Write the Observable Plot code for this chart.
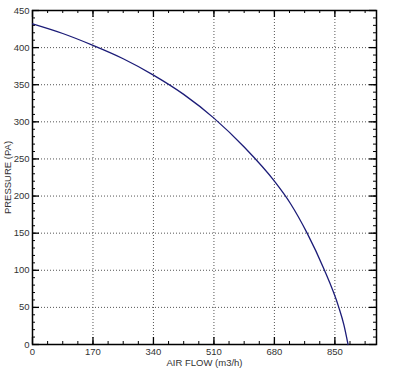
<!DOCTYPE html>
<html>
<head>
<meta charset="utf-8">
<script src="https://cdn.jsdelivr.net/npm/d3@7"></script>
<script src="https://cdn.jsdelivr.net/npm/@observablehq/plot@0.6"></script>
<style>
  html, body { margin: 0; padding: 0; background: #fff; }
  #chart svg { display: block; }
</style>
</head>
<body>
<div id="chart"></div>
<script>
// Fan curve
const airFlow  = [0, 85, 170, 255, 340, 425, 510, 595, 680, 725, 772, 818, 861, 875, 887];
const pressure = [432, 419, 403, 385, 363, 337, 305, 266, 220, 190, 150, 103, 50, 27, 0];

const xTicks = [0, 170, 340, 510, 680, 850];
const yTicks = [0, 50, 100, 150, 200, 250, 300, 350, 400, 450];
const xMinor = d3.range(0, 967, 42.5);
const yMinor = d3.range(0, 451, 10);

const xLabel = "AIR FLOW (m3/h)";
const yLabel = "PRESSURE (PA)";

const data = airFlow.map((q, i) => ({q, p: pressure[i]}));

const W = 396, H = 370;
const mL = 32, mR = 20, mT = 10, mB = 26;
const pw = W - mL - mR, ph = H - mT - mB;

const chart = Plot.plot({
  width: W,
  height: H,
  marginLeft: mL,
  marginRight: mR,
  marginTop: mT,
  marginBottom: mB,
  style: {fontFamily: "'Liberation Sans', Arial, sans-serif", fontSize: "9.5px", color: "#333", background: "#fff"},
  x: {domain: [0, 967]},
  y: {domain: [0, 450]},
  marks: [
    Plot.gridX(xTicks.filter(d => d > 0), {stroke: "#555", strokeOpacity: 1, strokeDasharray: "1,2"}),
    Plot.gridY(yTicks.filter(d => d > 0 && d < 450), {stroke: "#555", strokeOpacity: 1, strokeDasharray: "1,2"}),
    // minor ticks (inward) on all four sides
    Plot.ruleX(xMinor, {x: d => d, insetTop: ph - 3, stroke: "#000"}),
    Plot.ruleX(xMinor, {x: d => d, insetBottom: ph - 3, stroke: "#000"}),
    Plot.ruleY(yMinor, {y: d => d, insetRight: pw - 3, stroke: "#000"}),
    Plot.ruleY(yMinor, {y: d => d, insetLeft: pw - 3, stroke: "#000"}),
    // major ticks (inward)
    Plot.ruleX(xTicks, {x: d => d, insetTop: ph - 7, stroke: "#000", strokeWidth: 1.3}),
    Plot.ruleX(xTicks, {x: d => d, insetBottom: ph - 7, stroke: "#000", strokeWidth: 1.3}),
    Plot.ruleY(yTicks, {y: d => d, insetRight: pw - 7, stroke: "#000", strokeWidth: 1.3}),
    Plot.ruleY(yTicks, {y: d => d, insetLeft: pw - 7, stroke: "#000", strokeWidth: 1.3}),
    Plot.axisX({ticks: xTicks, tickSize: 0, tickPadding: 4, label: xLabel, labelAnchor: "center", labelArrow: "none", labelOffset: 21}),
    Plot.axisY({ticks: yTicks, tickSize: 0, tickPadding: 3, label: yLabel, labelAnchor: "center", labelArrow: "none", labelOffset: 28}),
    Plot.frame({stroke: "#000", strokeWidth: 1.5}),
    Plot.line(data, {x: "q", y: "p", curve: "monotone-x", stroke: "#1c1c78", strokeWidth: 1.3})
  ]
});
document.getElementById("chart").appendChild(chart);
</script>
</body>
</html>
